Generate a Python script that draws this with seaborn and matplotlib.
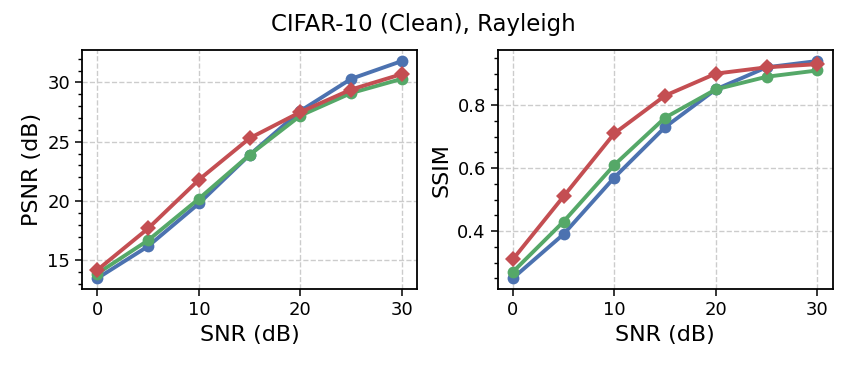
import matplotlib
matplotlib.use("Agg")
import matplotlib.pyplot as plt
import numpy as np
import pandas as pd
import seaborn as sns
from matplotlib.ticker import AutoMinorLocator

# values
snr = [0, 5, 10, 15, 20, 25, 30]
psnr_blue = [13.5, 16.2, 19.8, 23.9, 27.6, 30.3, 31.8]
psnr_green = [13.9, 16.7, 20.2, 23.9, 27.2, 29.1, 30.3]
psnr_red = [14.2, 17.7, 21.8, 25.3, 27.5, 29.4, 30.7]
ssim_blue = [0.25, 0.39, 0.57, 0.73, 0.85, 0.92, 0.94]
ssim_green = [0.27, 0.43, 0.61, 0.76, 0.85, 0.89, 0.91]
ssim_red = [0.31, 0.51, 0.71, 0.83, 0.90, 0.92, 0.93]

series = ["blue", "green", "red"]
palette = {"blue": "#4C72B0", "green": "#55A868", "red": "#C44E52"}
markers = {"blue": "o", "green": "o", "red": "D"}


def to_long(blue, green, red):
    frames = []
    for name, vals in zip(series, [blue, green, red]):
        frames.append(pd.DataFrame({"snr": snr, "value": vals, "series": name}))
    return pd.concat(frames, ignore_index=True)


psnr_df = to_long(psnr_blue, psnr_green, psnr_red)
ssim_df = to_long(ssim_blue, ssim_green, ssim_red)

sns.set_theme(style="ticks")
plt.rcParams["font.family"] = ["DejaVu Sans"]
plt.rcParams["text.color"] = "black"
plt.rcParams["axes.labelcolor"] = "black"
plt.rcParams["xtick.color"] = "black"
plt.rcParams["ytick.color"] = "black"

fig, axes = plt.subplots(1, 2, figsize=(8.47, 3.66), dpi=100)

for ax, df, ylabel in [(axes[0], psnr_df, "PSNR (dB)"), (axes[1], ssim_df, "SSIM")]:
    sns.lineplot(data=df, x="snr", y="value", hue="series", style="series",
                 palette=palette, markers=markers, dashes=False,
                 linewidth=2.8, markersize=8.5, markeredgewidth=0,
                 legend=False, ax=ax)
    ax.set_xlabel("SNR (dB)", fontsize=16)
    ax.set_ylabel(ylabel, fontsize=16)
    ax.set_xticks([0, 10, 20, 30])
    ax.yaxis.set_minor_locator(AutoMinorLocator())
    ax.tick_params(axis="both", which="major", labelsize=13, length=5, width=1.1)
    ax.tick_params(axis="y", which="minor", length=3, width=1)
    ax.grid(True, which="major", linestyle="--", color="#cccccc", linewidth=1)
    for sp in ax.spines.values():
        sp.set_linewidth(1.3)
        sp.set_color("black")

fig.suptitle("CIFAR-10 (Clean), Rayleigh", fontsize=16.5, y=0.965)
fig.subplots_adjust(left=0.097, right=0.983, top=0.863, bottom=0.21, wspace=0.24)
fig.savefig("out.png", dpi=100)
